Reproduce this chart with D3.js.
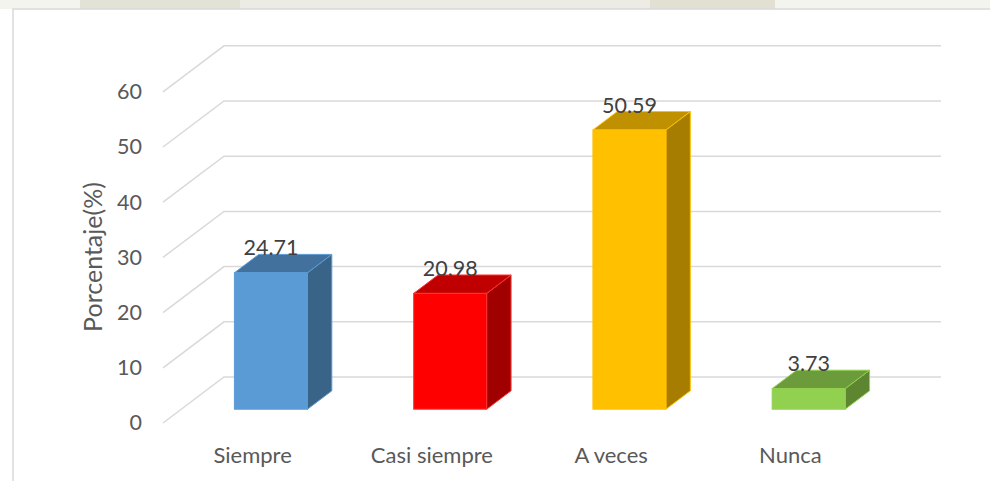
<!DOCTYPE html>
<html>
<head>
<meta charset="utf-8">
<script src="https://cdn.jsdelivr.net/npm/d3@7"></script>
<style>
  body { margin: 0; background: #fff; }
  text { font-family: Lato, "Noto Sans", sans-serif; }
</style>
</head>
<body>
<div class="graphContainer"></div>
<script>
var categories = ["Siempre", "Casi siempre", "A veces", "Nunca"];
var values = [24.71, 20.98, 50.59, 3.73];
var labels = ["24.71", "20.98", "50.59", "3.73"];
var ticks = [0, 10, 20, 30, 40, 50, 60];

var frontColors = ["#5B9BD5", "#FF0000", "#FFC000", "#92D050"];
var topColors = ["#41719C", "#C00000", "#BF9000", "#6C9B3C"];
var sideColors = ["#3A6388", "#A00000", "#A67D00", "#5E8530"];
var edgeColors = ["#5B9BD5", "#FF3333", "#FFC000", "#92D050"];

var width = 990;
var height = 481;

// depth offsets of the 3d floor
var depthX = 61;
var depthY = -46;

var svg = d3
  .select(".graphContainer")
  .append("svg")
  .attr("width", width)
  .attr("height", height);

// faint watermark strip at the top
svg.append("rect").attr("x", 0).attr("y", 0).attr("width", width).attr("height", 9).style("fill", "#f4f4ef");
svg.append("rect").attr("x", 80).attr("y", 0).attr("width", 160).attr("height", 9).style("fill", "#e3e2d6");
svg.append("rect").attr("x", 650).attr("y", 0).attr("width", 125).attr("height", 9).style("fill", "#e1e0d2");
svg.append("rect").attr("x", 240).attr("y", 0).attr("width", 410).attr("height", 9).style("fill", "#ecebe4");

// chart area border
svg
  .append("rect")
  .attr("x", 13)
  .attr("y", 9)
  .attr("width", width + 20)
  .attr("height", height + 20)
  .style("fill", "#fff")
  .style("stroke", "#D9D9D9")
  .style("stroke-width", 1.5);

var xScale = d3.scaleBand().domain(categories).range([163, 880]);
var yScale = d3.scaleLinear().domain([0, 60]).range([423, 91.8]);

// project (x, value, depth) to the screen
function px(x, z) {
  return x + z * depthX;
}
function py(v, z) {
  return yScale(v) + z * depthY;
}

// gridlines: side wall diagonal and back wall horizontal
var grid = svg.append("g");
ticks.forEach(function (t) {
  grid
    .append("polyline")
    .attr("points", [
      [px(163, 0), py(t, 0)],
      [px(163, 1), py(t, 1)],
      [px(880, 1), py(t, 1)]
    ].join(" "))
    .style("fill", "none")
    .style("stroke", "#D9D9D9")
    .style("stroke-width", 1.5);
});

// y tick labels
svg
  .selectAll(".ytick")
  .data(ticks)
  .enter()
  .append("text")
  .attr("class", "ytick")
  .attr("x", 142)
  .attr("y", (d) => yScale(d) + 2)
  .attr("text-anchor", "end")
  .attr("dominant-baseline", "middle")
  .style("font-size", "21.5px")
  .style("fill", "#595959")
  .text((d) => d);

// y axis title
svg
  .append("text")
  .attr("transform", "translate(102,257) rotate(-90)")
  .attr("text-anchor", "middle")
  .style("font-size", "25px")
  .style("fill", "#595959")
  .text("Porcentaje(%)");

// bars
var z0 = 0.3;
var z1 = 0.7;
var barW = 73;

var bars = svg
  .selectAll(".bar")
  .data(values)
  .enter()
  .append("g")
  .attr("class", "bar");

bars.each(function (d, i) {
  var g = d3.select(this);
  var cx = xScale(categories[i]) + xScale.bandwidth() / 2;
  var x0 = cx - barW / 2;
  var x1 = cx + barW / 2;
  var edge = edgeColors[i];

  // right side
  g.append("polygon")
    .attr("points", [
      [px(x1, z0), py(0, z0)],
      [px(x1, z1), py(0, z1)],
      [px(x1, z1), py(d, z1)],
      [px(x1, z0), py(d, z0)]
    ].join(" "))
    .style("fill", sideColors[i])
    .style("stroke", edge)
    .style("stroke-width", 1)
    .style("stroke-linejoin", "round");

  // top
  g.append("polygon")
    .attr("points", [
      [px(x0, z0), py(d, z0)],
      [px(x1, z0), py(d, z0)],
      [px(x1, z1), py(d, z1)],
      [px(x0, z1), py(d, z1)]
    ].join(" "))
    .style("fill", topColors[i])
    .style("stroke", edge)
    .style("stroke-width", 1)
    .style("stroke-linejoin", "round");

  // front
  g.append("rect")
    .attr("x", px(x0, z0))
    .attr("y", py(d, z0))
    .attr("width", barW)
    .attr("height", py(0, z0) - py(d, z0))
    .style("fill", frontColors[i])
    .style("stroke", edge)
    .style("stroke-width", 1);

  // value label
  g.append("text")
    .attr("x", px(cx, z0))
    .attr("y", py(d, z1) + 1)
    .attr("text-anchor", "middle")
    .style("font-size", "21.5px")
    .style("fill", "#404040")
    .text(labels[i]);
});

// category labels
svg
  .selectAll(".xlabel")
  .data(categories)
  .enter()
  .append("text")
  .attr("class", "xlabel")
  .attr("x", (d) => xScale(d) + xScale.bandwidth() / 2)
  .attr("y", 463)
  .attr("text-anchor", "middle")
  .style("font-size", "22px")
  .style("fill", "#595959")
  .text((d) => d);
</script>
</body>
</html>
